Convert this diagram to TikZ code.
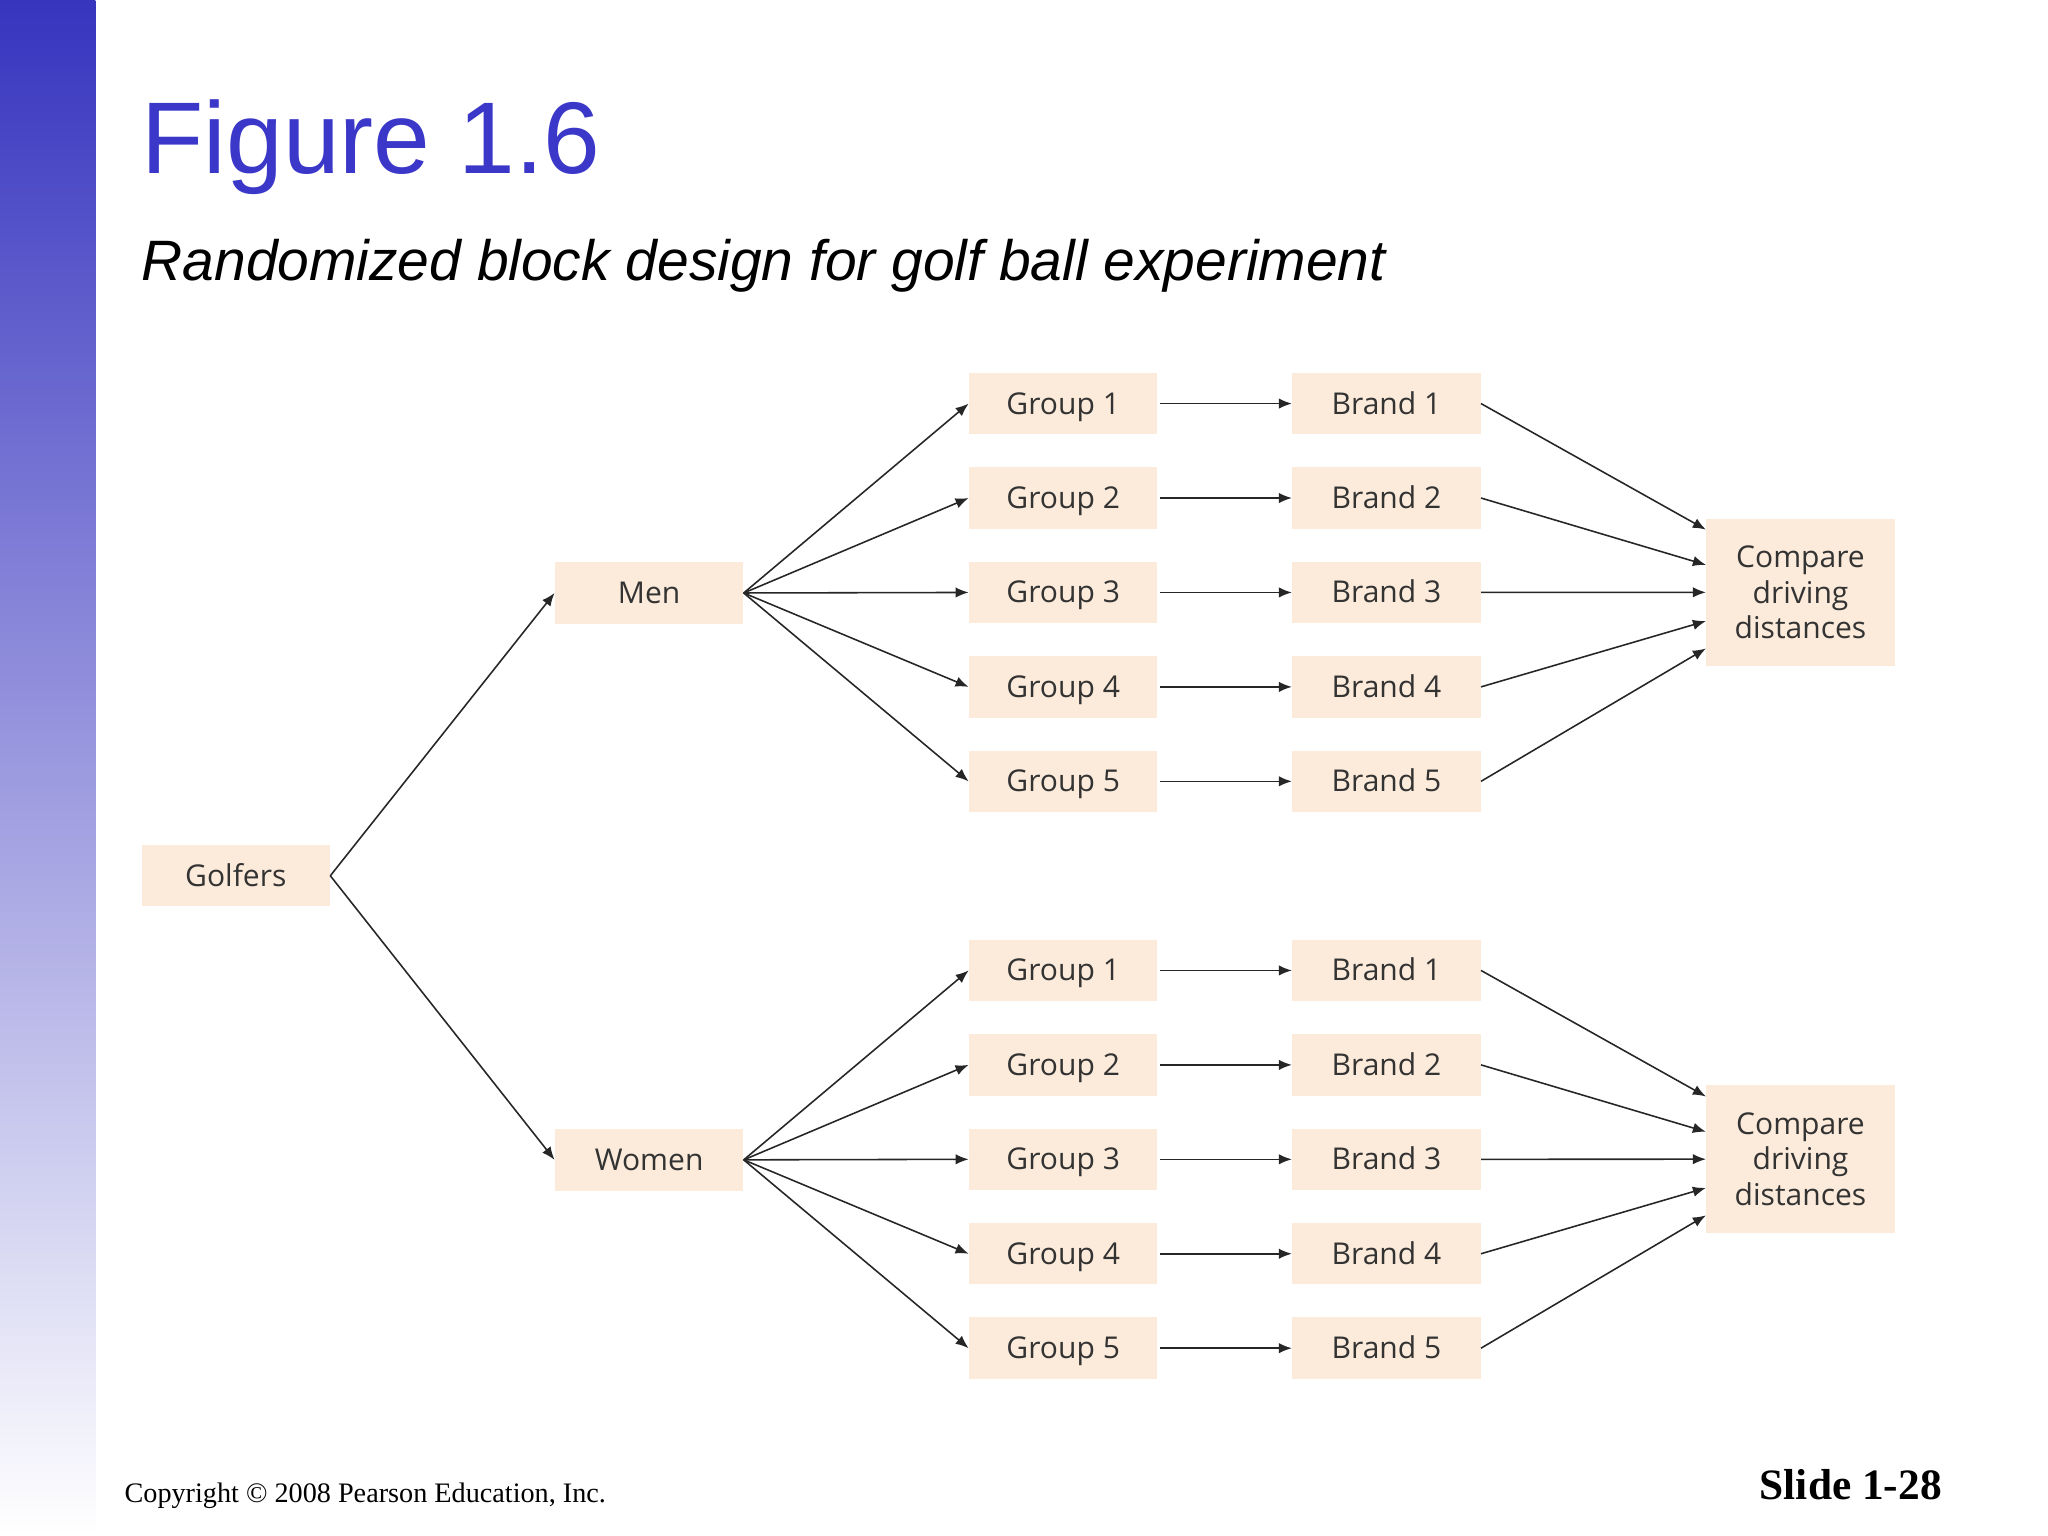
\documentclass[tikz,border=0pt]{standalone}
\usepackage{fontspec}
\setmainfont{Liberation Sans}
\newfontfamily\boxfont{Open Sans}
\newfontfamily\serif{Liberation Serif}
\usetikzlibrary{arrows.meta}
\definecolor{peach}{HTML}{FCEBDA}
\definecolor{titleblue}{HTML}{3A37C9}
\begin{document}
\begin{tikzpicture}[x=0.5pt,y=-0.5pt,
  bx/.style={fill=peach,minimum width=72pt,minimum height=23.5pt,inner sep=0pt,text height=9.5pt,text depth=1.5pt,font=\boxfont\fontsize{11.5}{13}\selectfont,text=black!80},
  ar/.style={-{Latex[length=5pt,width=4pt]},black!85,line width=0.6pt}]
\useasboundingbox (0,0) rectangle (1568,1176);
\fill[white] (0,0) rectangle (1568,1176);
\shade[top color=titleblue!95!black,bottom color=white] (0,0) rectangle (73,1176);
\node[anchor=base west,inner sep=0pt,text=titleblue,font=\fontsize{39}{44}\selectfont] (title) at (108,133) {Figure 1.6};
\node[anchor=base west,inner sep=0pt,font=\itshape\fontsize{21.8}{25}\selectfont] (sub) at (108,215) {Randomized block design for golf ball experiment};
\node[anchor=base west,inner sep=0pt,font=\serif\fontsize{10.8}{12}\selectfont] (copy) at (95,1150) {Copyright © 2008 Pearson Education, Inc.};
\node[anchor=base east,inner sep=0pt,font=\serif\bfseries\fontsize{16.6}{18}\selectfont] (slide) at (1487,1148) {Slide 1-28};
\node[bx] (golf) at (180.5,670.5) {Golfers};
\node[bx] (men) at (497,454) {Men};
\node[bx] (women) at (497,888) {Women};
\foreach \p/\base in {m/309,w/743}{
  \node[bx,minimum height=56.5pt,align=center,text height=,text depth=,font=\boxfont\fontsize{11.5}{13.5}\selectfont] (c\p) at (1378.5,\base+144.5) {Compare\\driving\\distances};
  \foreach \i in {1,...,5}{
    \node[bx] (g\p\i) at (814,{\base+(\i-1)*72.3}) {Group \i};
    \node[bx] (b\p\i) at (1061.5,{\base+(\i-1)*72.3}) {Brand \i};
    \draw[ar] (g\p\i.east) ++(1pt,0) -- (b\p\i.west);
  }
}
\foreach \i in {1,...,5}{
  \draw[ar] (men.east) -- (gm\i.west);
  \draw[ar] (women.east) -- (gw\i.west);
}
\foreach \i/\dy in {1/-48,2/-21,3/0,4/22,5/43}{
  \draw[ar] (bm\i.east) -- ([yshift={-\dy*0.5pt}]cm.west);
  \draw[ar] (bw\i.east) -- ([yshift={-\dy*0.5pt}]cw.west);
}
\draw[ar] (golf.east) -- (men.west);
\draw[ar] (golf.east) -- (women.west);
\end{tikzpicture}
\end{document}
